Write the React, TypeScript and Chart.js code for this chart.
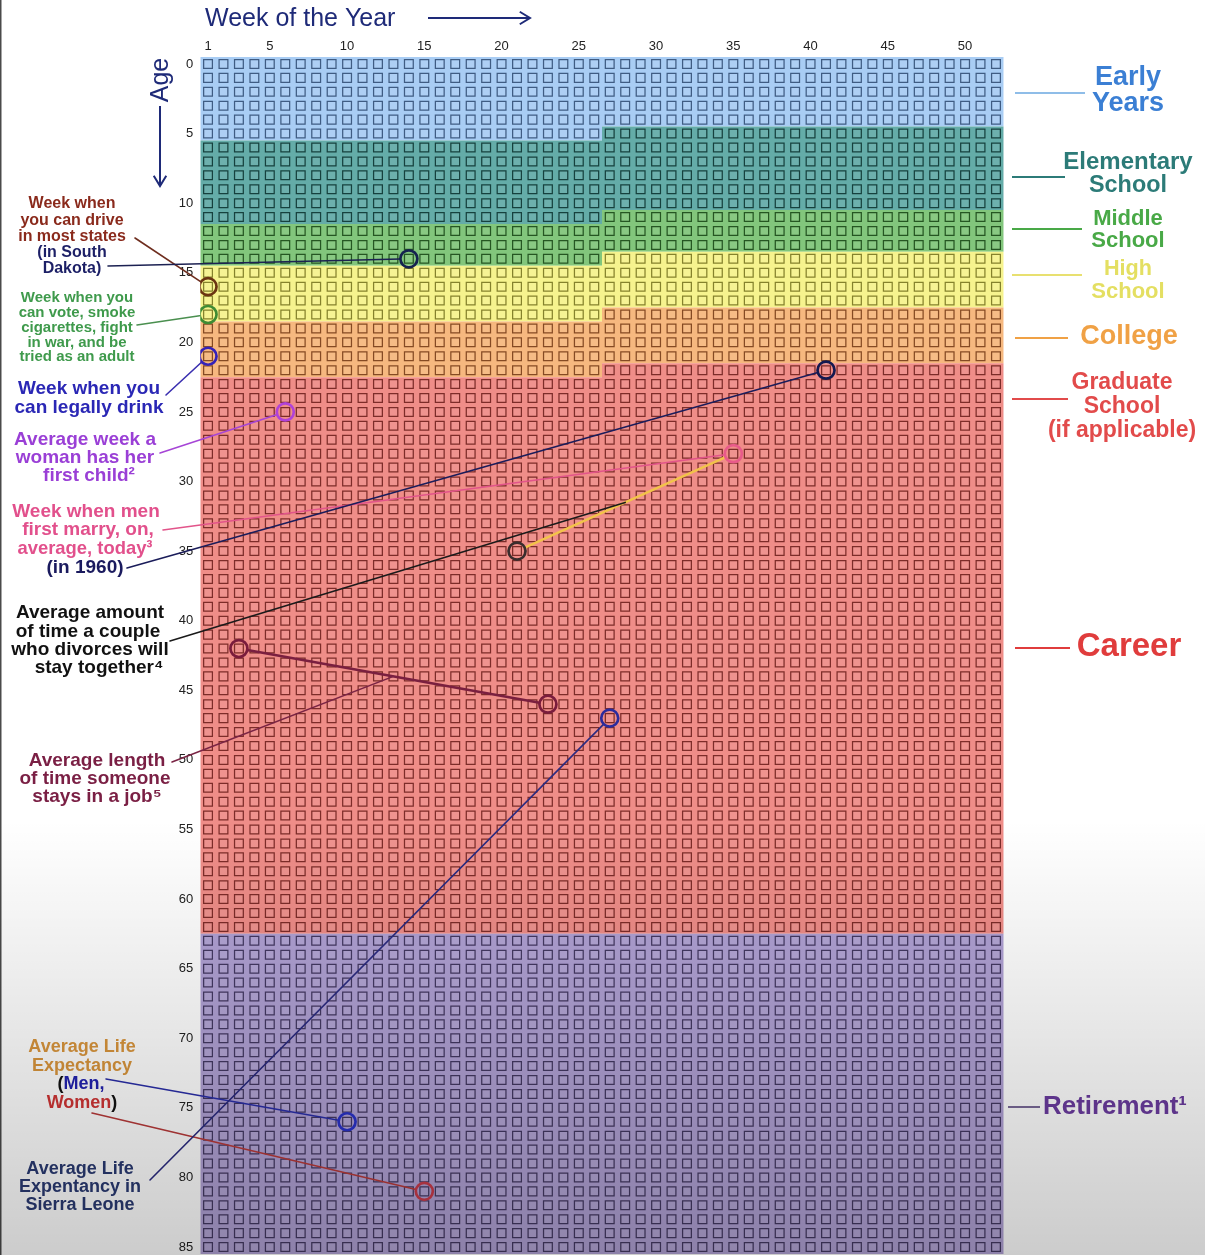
import React, { useEffect, useRef } from "react";
import { Chart, registerables } from "chart.js";

Chart.register(...registerables);

// ---------- data ----------
const WEEKS = [1, 2, 3, 4, 5, 6, 7, 8, 9, 10, 11, 12, 13, 14, 15, 16, 17, 18, 19, 20, 21, 22, 23, 24, 25, 26,
  27, 28, 29, 30, 31, 32, 33, 34, 35, 36, 37, 38, 39, 40, 41, 42, 43, 44, 45, 46, 47, 48, 49, 50, 51, 52];
const AGES = [0, 1, 2, 3, 4, 5, 6, 7, 8, 9, 10, 11, 12, 13, 14, 15, 16, 17, 18, 19, 20, 21, 22, 23, 24, 25, 26, 27, 28, 29,
  30, 31, 32, 33, 34, 35, 36, 37, 38, 39, 40, 41, 42, 43, 44, 45, 46, 47, 48, 49, 50, 51, 52, 53, 54, 55, 56, 57, 58, 59,
  60, 61, 62, 63, 64, 65, 66, 67, 68, 69, 70, 71, 72, 73, 74, 75, 76, 77, 78, 79, 80, 81, 82, 83, 84, 85];
const WEEK_TICKS = [1, 5, 10, 15, 20, 25, 30, 35, 40, 45, 50];
const AGE_TICKS = [0, 5, 10, 15, 20, 25, 30, 35, 40, 45, 50, 55, 60, 65, 70, 75, 80, 85];

const STAGE_NAMES = ["Early Years", "Elementary School", "Middle School", "High School", "College", "Graduate School / Career", "Retirement"];
const STAGE_START_AGE = [0, 5, 11, 14, 18, 22, 63];
const STAGE_START_WEEK = [1, 27, 27, 27, 27, 27, 1];
const STAGE_END_AGE = [5, 11, 14, 18, 22, 62, 85];
const STAGE_END_WEEK = [26, 26, 26, 26, 26, 52, 52];
const STAGE_COLORS = ["#a9cdf4", "#64aca8", "#82c67c", "#f6f38e", "#f6b87f", "#ef8d88", "#b0a1d4"];

const EVENT_NAMES = ["Drive (South Dakota)", "Drive (most states)", "Vote / adult", "Legal drinking", "Woman's first child",
  "Men first marry (today)", "Men first marry (1960)", "Divorce", "Job start", "Job end",
  "Life expectancy Sierra Leone", "Life expectancy men", "Life expectancy women"];
const EVENT_WEEKS = [14, 1, 1, 1, 6, 35, 41, 21, 3, 23, 27, 10, 15];
const EVENT_AGES = [14, 16, 18, 21, 25, 28, 22, 35, 42, 46, 47, 76, 81];
const EVENT_COLORS = ["#15224f", "#6b3512", "#3f8b33", "#3522b8", "#b042d8", "#e85a8a", "#131950", "#3a2d2d",
  "#7a1c3c", "#7a1c3c", "#2b2b9c", "#2a32c8", "#c83b4b"];

// connecting segments between two events: [from, to]
const SEGMENT_FROM = [5, 8];
const SEGMENT_TO = [7, 9];
const SEGMENT_COLORS = ["#f2c34a", "#7a1f3f"];

// ---------- layout / styles ----------
const FONT = '"Liberation Sans", Arial, Helvetica, sans-serif';
const W = 1205;
const H = 1255;

type Leader = { from: [number, number]; event?: number; segment?: number; color: string };
const LEADERS: Leader[] = [
  { from: [135, 238], event: 1, color: "#6e2d1e" },
  { from: [108, 266], event: 0, color: "#1c2152" },
  { from: [137, 325], event: 2, color: "#4a8f4f" },
  { from: [166, 395], event: 3, color: "#3a2fb0" },
  { from: [160, 453], event: 4, color: "#a645d6" },
  { from: [163, 530], event: 5, color: "#e2548a" },
  { from: [127, 568], event: 6, color: "#1a1c5a" },
  { from: [170, 641], segment: 0, color: "#1a1a1a" },
  { from: [172, 762], segment: 1, color: "#7a2444" },
  { from: [106, 1079], event: 11, color: "#2a2ea8" },
  { from: [92, 1113], event: 12, color: "#b83a3a" },
  { from: [150, 1180], event: 10, color: "#2a2a80" },
];

type TextBlock = { size: number; color: string; lines: [string, number, number, number][] };
const LEFT_TEXT: TextBlock[] = [
  { size: 16, color: "#8a2a1c", lines: [["Week when", 72, 204, 90], ["you can drive", 72, 221, 108], ["in most states", 72, 237, 115]] },
  { size: 16, color: "#1c1f66", lines: [["(in South", 72, 253, 75], ["Dakota)", 72, 269, 62]] },
  { size: 15, color: "#3f9a4c", lines: [["Week when you", 77, 298, 117], ["can vote, smoke", 77, 313, 120], ["cigarettes, fight", 77, 328, 114], ["in war, and be", 77, 343, 100], ["tried as an adult", 77, 357, 117]] },
  { size: 19, color: "#2a27b5", lines: [["Week when you", 89, 389, 142], ["can legally drink", 89, 408, 152]] },
  { size: 19, color: "#9a3fd6", lines: [["Average week a", 85, 440, 143], ["woman has her", 85, 458, 141], ["first child²", 89, 476, 95]] },
  { size: 19, color: "#e2508c", lines: [["Week when men", 86, 512, 148], ["first marry, on,", 88, 530, 136], ["average, today³", 85, 549, 135]] },
  { size: 19, color: "#1a1a5e", lines: [["(in 1960)", 85, 568, 80]] },
  { size: 19, color: "#111111", lines: [["Average amount", 90, 613, 151], ["of time a couple", 88, 632, 147], ["who divorces will", 90, 650, 160], ["stay together⁴", 99, 668, 143]] },
  { size: 19, color: "#7a1f44", lines: [["Average length", 97, 761, 138], ["of time someone", 95, 779, 152], ["stays in a job⁵", 97, 797, 130]] },
  { size: 18, color: "#d9953c", lines: [["Average Life", 82, 1047, 115], ["Expectancy", 82, 1066, 107]] },
  { size: 18, color: "#2a3a72", lines: [["Average Life", 80, 1169, 115], ["Expentancy in", 80, 1187, 130], ["Sierra Leone", 80, 1205, 117]] },
];

const RIGHT_TEXT: TextBlock[] = [
  { size: 27, color: "#3b7fd4", lines: [["Early", 1128, 78, 68], ["Years", 1128, 104, 74]] },
  { size: 24, color: "#2c7b78", lines: [["Elementary", 1128, 162, 131], ["School", 1128, 185, 78]] },
  { size: 22, color: "#49a947", lines: [["Middle", 1128, 219, 71], ["School", 1128, 241, 76]] },
  { size: 22, color: "#e4df62", lines: [["High", 1128, 269, 48], ["School", 1128, 292, 74]] },
  { size: 27, color: "#f0a145", lines: [["College", 1129, 337, 99]] },
  { size: 23, color: "#e24b4b", lines: [["Graduate", 1122, 383, 107], ["School", 1122, 407, 80], ["(if applicable)", 1122, 431, 159]] },
  { size: 33, color: "#e03c3c", lines: [["Career", 1129, 647, 109]] },
];
// right leader lines: x0, x1, y, color
const RIGHT_LINES: [number, number, number, string][] = [
  [1015, 1085, 93, "#8fbde8"],
  [1012, 1065, 177, "#2c7b78"],
  [1012, 1082, 229, "#49a947"],
  [1012, 1082, 275, "#e8e070"],
  [1015, 1068, 338, "#f0a145"],
  [1012, 1068, 399, "#e24b4b"],
  [1015, 1070, 648, "#e03c3c"],
  [1008, 1040, 1107, "#7a6a98"],
];

function hexRgb(h: string) {
  const n = parseInt(h.slice(1), 16);
  return [(n >> 16) & 255, (n >> 8) & 255, n & 255];
}
function shade(h: string) {
  const [r, g, b] = hexRgb(h);
  const f = (c: number) => Math.round((c * c) / 255 * 0.56);
  return `rgb(${f(r)},${f(g)},${f(b)})`;
}
function stageOf(a: number, w: number) {
  const idx = a * 52 + w - 1;
  for (let s = 0; s < STAGE_NAMES.length; s++) {
    const s0 = STAGE_START_AGE[s] * 52 + STAGE_START_WEEK[s] - 1;
    const e0 = STAGE_END_AGE[s] * 52 + STAGE_END_WEEK[s] - 1;
    if (idx >= s0 && idx <= e0) return s;
  }
  return STAGE_NAMES.length - 1;
}

function drawBlock(ctx: CanvasRenderingContext2D, b: TextBlock) {
  ctx.font = `bold ${b.size}px ${FONT}`;
  ctx.fillStyle = b.color;
  ctx.textAlign = "center";
  ctx.textBaseline = "middle";
  for (const [t, x, y, w] of b.lines) ctx.fillText(t, x, y, w);
}

function drawPieces(ctx: CanvasRenderingContext2D, pieces: [string, string][], cx: number, cy: number, size: number) {
  ctx.font = `bold ${size}px ${FONT}`;
  ctx.textAlign = "left";
  ctx.textBaseline = "middle";
  const total = pieces.reduce((s, p) => s + ctx.measureText(p[0]).width, 0);
  let x = cx - total / 2;
  for (const [t, c] of pieces) {
    ctx.fillStyle = c;
    ctx.fillText(t, x, cy);
    x += ctx.measureText(t).width;
  }
}

function arrow(ctx: CanvasRenderingContext2D, x0: number, y0: number, x1: number, y1: number, color: string) {
  ctx.strokeStyle = color;
  ctx.lineWidth = 2;
  ctx.beginPath();
  ctx.moveTo(x0, y0);
  ctx.lineTo(x1, y1);
  const ang = Math.atan2(y1 - y0, x1 - x0);
  const L = 12;
  ctx.moveTo(x1 - L * Math.cos(ang - 0.55), y1 - L * Math.sin(ang - 0.55));
  ctx.lineTo(x1, y1);
  ctx.lineTo(x1 - L * Math.cos(ang + 0.55), y1 - L * Math.sin(ang + 0.55));
  ctx.stroke();
}

const CIRCLE_R = 8.5;

const lifePlugin = {
  id: "lifePlugin",
  beforeDraw(chart: any) {
    const ctx = chart.ctx as CanvasRenderingContext2D;
    ctx.save();
    ctx.fillStyle = "#ffffff";
    ctx.fillRect(0, 0, chart.width, chart.height);
    ctx.restore();
  },
  beforeDatasetsDraw(chart: any) {
    const ctx = chart.ctx as CanvasRenderingContext2D;
    const xs = chart.scales.x, ys = chart.scales.y, ca = chart.chartArea;
    ctx.save();
    ctx.beginPath();
    ctx.rect(ca.left, ca.top, ca.right - ca.left, ca.bottom - ca.top);
    ctx.clip();
    const xL = xs.getPixelForValue(0.5), xR = xs.getPixelForValue(52.5);
    for (let s = 0; s < STAGE_NAMES.length; s++) {
      const sw = STAGE_START_WEEK[s], ew = STAGE_END_WEEK[s];
      const sa = STAGE_START_AGE[s], ea = STAGE_END_AGE[s];
      const xS = xs.getPixelForValue(sw - 0.5), xE = xs.getPixelForValue(ew + 0.5);
      const yT = ys.getPixelForValue(sa - 0.5), yT2 = ys.getPixelForValue(sa + 0.5);
      const yB = ys.getPixelForValue(ea + 0.5), yB1 = ys.getPixelForValue(ea - 0.5);
      ctx.beginPath();
      ctx.moveTo(xS, yT);
      ctx.lineTo(xR, yT);
      if (ew === 52) ctx.lineTo(xR, yB);
      else { ctx.lineTo(xR, yB1); ctx.lineTo(xE, yB1); ctx.lineTo(xE, yB); }
      ctx.lineTo(xL, yB);
      if (sw === 1) ctx.lineTo(xL, yT);
      else { ctx.lineTo(xL, yT2); ctx.lineTo(xS, yT2); }
      ctx.closePath();
      ctx.fillStyle = STAGE_COLORS[s];
      ctx.fill();
    }
    ctx.restore();
  },
  afterDatasetDraw(chart: any, args: any) {
    if (args.index !== 1) return;
    const ctx = chart.ctx as CanvasRenderingContext2D;
    const xs = chart.scales.x, ys = chart.scales.y;
    const px = (i: number): [number, number] => [xs.getPixelForValue(EVENT_WEEKS[i]), ys.getPixelForValue(EVENT_AGES[i])];
    ctx.save();
    ctx.lineCap = "round";
    const segMid: [number, number][] = [];
    for (let k = 0; k < SEGMENT_FROM.length; k++) {
      const a = px(SEGMENT_FROM[k]), b = px(SEGMENT_TO[k]);
      const d = Math.hypot(b[0] - a[0], b[1] - a[1]);
      const ux = (b[0] - a[0]) / d, uy = (b[1] - a[1]) / d;
      ctx.strokeStyle = SEGMENT_COLORS[k];
      ctx.lineWidth = 2.5;
      ctx.beginPath();
      ctx.moveTo(a[0] + ux * CIRCLE_R, a[1] + uy * CIRCLE_R);
      ctx.lineTo(b[0] - ux * CIRCLE_R, b[1] - uy * CIRCLE_R);
      ctx.stroke();
      segMid.push([(a[0] + b[0]) / 2, (a[1] + b[1]) / 2]);
    }
    for (const l of LEADERS) {
      let end: [number, number];
      let trim = 0;
      if (l.event !== undefined) { end = px(l.event); trim = CIRCLE_R; }
      else end = segMid[l.segment as number];
      const d = Math.hypot(end[0] - l.from[0], end[1] - l.from[1]);
      const ux = (end[0] - l.from[0]) / d, uy = (end[1] - l.from[1]) / d;
      ctx.strokeStyle = l.color;
      ctx.lineWidth = 1.6;
      ctx.beginPath();
      ctx.moveTo(l.from[0], l.from[1]);
      ctx.lineTo(end[0] - ux * trim, end[1] - uy * trim);
      ctx.stroke();
    }
    ctx.restore();
  },
  afterDraw(chart: any) {
    const ctx = chart.ctx as CanvasRenderingContext2D;
    ctx.save();
    ctx.fillStyle = "#4a4a4a";
    ctx.fillRect(0, 0, 1.5, chart.height);
    ctx.font = `25px ${FONT}`;
    ctx.fillStyle = "#1e2a78";
    ctx.textAlign = "left";
    ctx.textBaseline = "middle";
    ctx.fillText("Week of the Year", 205, 19);
    arrow(ctx, 428, 18, 530, 18, "#1e2a78");
    ctx.save();
    ctx.translate(161, 80);
    ctx.rotate(-Math.PI / 2);
    ctx.textAlign = "center";
    ctx.fillText("Age", 0, 0);
    ctx.restore();
    arrow(ctx, 160, 106, 160, 186, "#1e2a78");
    for (const b of LEFT_TEXT) drawBlock(ctx, b);
    drawPieces(ctx, [["(", "#111111"], ["Men,", "#2222b0"]], 81, 1084, 18);
    drawPieces(ctx, [["Women", "#d03535"], [")", "#111111"]], 82, 1103, 18);
    for (const b of RIGHT_TEXT) drawBlock(ctx, b);
    ctx.font = `bold 26px ${FONT}`;
    ctx.fillStyle = "#6b3c9f";
    ctx.textAlign = "left";
    ctx.textBaseline = "middle";
    ctx.fillText("Retirement¹", 1043, 1107, 144);
    for (const [x0, x1, y, c] of RIGHT_LINES) {
      ctx.strokeStyle = c;
      ctx.lineWidth = 2;
      ctx.beginPath();
      ctx.moveTo(x0, y);
      ctx.lineTo(x1, y);
      ctx.stroke();
    }
    const g = ctx.createLinearGradient(0, 820, 0, chart.height);
    g.addColorStop(0, "rgba(0,0,0,0)");
    g.addColorStop(1, "rgba(0,0,0,0.2)");
    ctx.fillStyle = g;
    ctx.fillRect(0, 820, chart.width, chart.height - 820);
    ctx.restore();
  },
};

export default function App() {
  const ref = useRef<HTMLCanvasElement>(null);
  useEffect(() => {
    const cellData: { x: number; y: number }[] = [];
    const cellColors: string[] = [];
    for (const a of AGES) {
      for (const w of WEEKS) {
        cellData.push({ x: w, y: a });
        cellColors.push(shade(STAGE_COLORS[stageOf(a, w)]));
      }
    }
    const eventData = EVENT_WEEKS.map((w, i) => ({ x: w, y: EVENT_AGES[i] }));
    const chart = new Chart(ref.current as HTMLCanvasElement, {
      type: "scatter",
      data: {
        datasets: [
          {
            label: "Life events",
            data: eventData,
            pointStyle: "circle",
            pointRadius: CIRCLE_R,
            pointBorderWidth: 2.7,
            pointBorderColor: EVENT_COLORS,
            pointBackgroundColor: "rgba(0,0,0,0)",
            pointHoverRadius: CIRCLE_R,
          } as any,
          {
            label: "Weeks",
            data: cellData,
            pointStyle: "rect",
            pointRadius: 6.2,
            pointBorderWidth: 1.25,
            pointBorderColor: cellColors,
            pointBackgroundColor: "rgba(255,255,255,0.06)",
            pointHoverRadius: 6.2,
          } as any,
        ],
      },
      options: {
        animation: false,
        responsive: false,
        events: [],
        layout: { autoPadding: false, padding: { left: 160.3, top: 37, right: 201.3, bottom: 1 } },
        plugins: { legend: { display: false }, tooltip: { enabled: false } },
        scales: {
          x: {
            type: "linear",
            position: "top",
            min: 0.5,
            max: 52.5,
            grid: { display: false, drawTicks: false },
            border: { display: false },
            ticks: { autoSkip: false, padding: 3, color: "#222", font: { family: FONT, size: 13 } },
            afterBuildTicks: (axis: any) => { axis.ticks = WEEK_TICKS.map((v) => ({ value: v })); },
            afterFit: (s: any) => { s.height = 20; s.paddingLeft = 0; s.paddingRight = 0; s.paddingTop = 0; s.paddingBottom = 0; },
          },
          y: {
            type: "linear",
            reverse: true,
            min: -0.5,
            max: 85.5,
            grid: { display: false, drawTicks: false },
            border: { display: false },
            ticks: { autoSkip: false, padding: 7, color: "#222", font: { family: FONT, size: 13 } },
            afterBuildTicks: (axis: any) => { axis.ticks = AGE_TICKS.map((v) => ({ value: v })); },
            afterFit: (s: any) => { s.width = 40; s.paddingTop = 0; s.paddingBottom = 0; s.paddingLeft = 0; s.paddingRight = 0; },
          },
        },
      } as any,
      plugins: [lifePlugin],
    });
    return () => chart.destroy();
  }, []);
  return (
    <div style={{ position: "absolute", left: 0, top: 0, width: W, height: H }}>
      <canvas ref={ref} width={W} height={H} style={{ width: W, height: H, display: "block" }} />
    </div>
  );
}
